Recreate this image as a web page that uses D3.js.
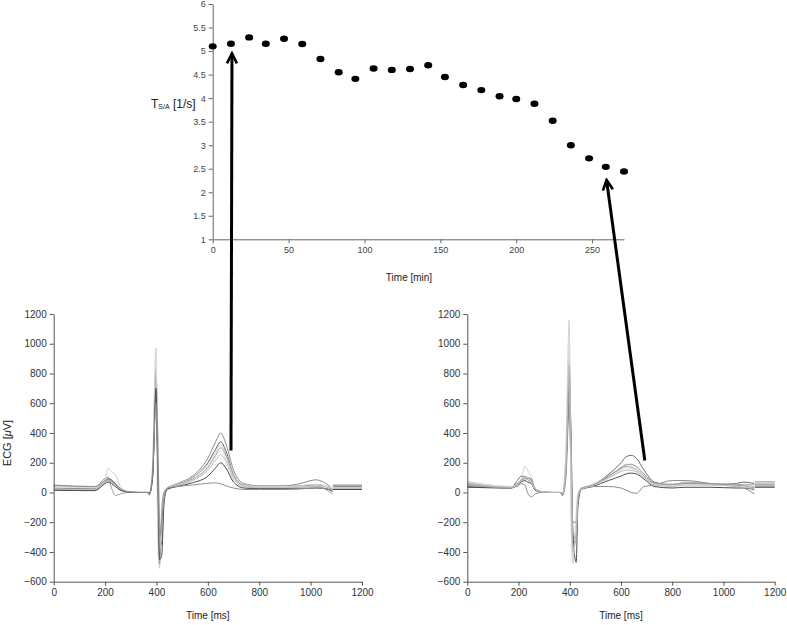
<!DOCTYPE html>
<html><head><meta charset="utf-8">
<script src="https://cdn.jsdelivr.net/npm/d3@7"></script>
<style>body{margin:0;background:#fff}svg{display:block}</style>
</head><body><svg id="c" width="787" height="625"></svg>
<script>
// ---------- Data ----------
const tsaTimes  = [0,12,24,35,47,59,71,83,94,106,118,130,142,153,165,177,189,200,212,224,236,248,259,271];
const tsaValues = [5.10,5.155,5.29,5.155,5.26,5.15,4.83,4.55,4.41,4.63,4.60,4.62,4.70,4.45,4.28,4.17,4.04,3.98,3.88,3.52,3.00,2.72,2.54,2.44];
const tsaXTicks = [0,50,100,150,200,250];
const tsaYTicks = [1,1.5,2,2.5,3,3.5,4,4.5,5,5.5,6];
const ecgXTicks = [0,200,400,600,800,1000,1200];
const ecgYTicks = [-600,-400,-200,0,200,400,600,800,1000,1200];

const leftTimes = [0,160,185,200,212,225,240,260,290,330,365,372,385,398,405,412,420,430,442,480,540,600,630,650,670,700,740,800,900,960,1020,1060,1085];
const leftTraces = [
  [45,38,70,95,100,80,60,25,5,0,0,-15,150,800,400,-200,-350,-40,30,60,110,230,340,400,330,150,60,45,45,60,85,60,25],
  [30,25,60,80,90,85,55,20,5,0,0,-10,100,650,200,-420,-250,-20,25,55,100,200,290,340,280,120,50,40,40,45,50,40,20],
  [40,35,65,85,165,140,120,40,5,0,0,-20,200,970,-300,-510,-100,10,30,60,100,190,270,320,260,120,50,40,40,45,55,45,30],
  [20,15,40,70,100,30,-20,-10,0,0,0,-5,120,830,100,-480,-150,0,25,50,90,170,250,300,250,110,45,30,30,35,40,20,-10],
  [35,30,55,75,80,70,50,20,5,0,0,-10,150,900,300,-350,-300,-30,25,50,85,160,235,280,230,100,45,40,40,40,45,40,25],
  [25,20,50,70,75,65,45,15,5,0,0,-10,130,750,250,-400,-200,-30,20,45,80,150,215,255,210,90,40,35,35,35,40,30,15],
  [15,12,40,60,70,60,40,15,3,0,0,-5,100,700,150,-450,-430,-60,20,40,65,110,165,200,165,70,30,25,25,25,30,25,10],
  [50,40,60,80,85,75,55,25,5,0,0,-15,130,600,200,-300,-200,-40,30,40,50,62,65,58,45,30,20,20,20,25,30,25,5]
];
const leftTails = [50,45,40,30,50,25,20,40];
const leftColors = ["#8a8a8a","#5a5a5a","#cfcfcf","#9a9a9a","#dadada","#bdbdbd","#4a4a4a","#8f8f8f"];

const rightTimes = [0,170,195,210,225,235,250,265,290,330,362,372,385,398,405,412,425,432,445,490,550,600,620,640,660,690,730,800,850,950,1050,1080,1120];
const rightTraces = [
  [40,30,80,110,105,100,80,20,5,0,0,-20,200,600,100,-300,-300,-40,20,50,120,200,240,250,230,150,70,50,60,55,60,70,60],
  [75,40,60,90,175,150,100,30,5,0,0,-10,300,1160,-200,-480,-150,0,25,55,110,170,190,185,170,120,60,50,70,60,55,50,40],
  [35,30,50,70,80,70,60,15,3,0,0,-5,150,720,400,-250,-470,-90,20,40,80,110,125,130,125,90,40,30,35,35,30,30,20],
  [55,35,40,60,50,0,-30,-10,0,0,0,-20,100,600,200,-200,-200,-60,30,40,40,30,15,0,-5,40,50,80,80,60,40,30,-10],
  [65,35,60,85,110,90,60,20,5,0,0,-15,200,900,150,-400,-250,-30,25,50,110,160,175,170,155,110,60,50,60,55,50,55,50],
  [70,40,55,80,100,95,70,25,5,0,0,-10,250,1000,0,-450,-200,-20,25,50,100,150,165,160,150,100,55,45,55,50,45,50,40],
  [50,30,55,80,95,95,95,20,5,0,0,-10,150,800,300,-350,-300,-40,25,50,105,165,185,190,175,125,65,55,65,60,50,45,30],
  [60,35,50,75,90,85,70,25,5,0,0,-10,180,850,250,-380,-280,-30,20,45,95,140,150,148,140,100,50,40,50,50,40,35,25]
];
const rightTails = [70,60,35,40,55,65,50,45];
const rightColors = ["#6a6a6a","#d0d0d0","#4a4a4a","#8a8a8a","#a5a5a5","#dadada","#9a9a9a","#bdbdbd"];

// arrows: from ECG point [ms, µV] to T_S/A point [min, 1/s]
const arrowLinks = [
  {panel:"left",  from:[690,282], to:[12.7,4.95]},
  {panel:"right", from:[693,215], to:[259.5,2.26]}
];

// ---------- Drawing ----------
const svg = d3.select("#c");
const FONT = "'Liberation Sans', Arial, sans-serif";

// Top chart
const tx = d3.scaleLinear([0,271],[212.7,624]);
const ty = d3.scaleLinear([1,6],[239.3,4]);

const topX = svg.append("g").attr("transform","translate(0,239.3)")
  .call(d3.axisBottom(tx).tickValues(tsaXTicks).tickSize(4).tickSizeOuter(0).tickPadding(3).tickFormat(d3.format("d")));
const topY = svg.append("g").attr("transform","translate(212.7,0)")
  .call(d3.axisLeft(ty).tickValues(tsaYTicks).tickSize(4).tickSizeOuter(0).tickPadding(3).tickFormat(d3.format("")));
[topX, topY].forEach(g => {
  g.selectAll("path,line").attr("stroke","#666");
  g.selectAll("text").attr("fill","#444").style("font-family",FONT).style("font-size","9px");
});

svg.append("g").selectAll("ellipse").data(tsaTimes).join("ellipse")
  .attr("cx",(d)=>tx(d)).attr("cy",(d,i)=>ty(tsaValues[i]))
  .attr("rx",4).attr("ry",3.2).attr("fill","#000");

const tl = svg.append("text").attr("x",151).attr("y",108).attr("fill","#222")
  .style("font-family",FONT).style("font-size","12px");
tl.append("tspan").text("T");
tl.append("tspan").attr("dy",1).style("font-size","7px").text("S/A");
tl.append("tspan").attr("dy",-1).text(" [1/s]");

svg.append("text").attr("x",409).attr("y",281).attr("text-anchor","middle").attr("fill","#222")
  .style("font-family",FONT).style("font-size","10px").text("Time [min]");

// ECG panels
function ecgPanel(x0, x1, times, traces, tails, colors) {
  const x = d3.scaleLinear([0,1200],[x0,x1]);
  const y = d3.scaleLinear([-600,1200],[581.7,314]);
  const line = d3.line().x(d=>x(d[0])).y(d=>y(d[1])).curve(d3.curveMonotoneX);
  const tEnd = times[times.length-1];
  traces.forEach((vals,i) => {
    const pts = times.map((t,j)=>[t, vals[j]]);
    svg.append("path").attr("d", line(pts)).attr("fill","none")
      .attr("stroke", colors[i]).attr("stroke-width",1);
    svg.append("path").attr("d", line([[tEnd+2, tails[i]],[1200, tails[i]]])).attr("fill","none")
      .attr("stroke", colors[i]).attr("stroke-width",1);
  });
  const gx = svg.append("g").attr("transform","translate(0,581.7)")
    .call(d3.axisBottom(x).tickValues(ecgXTicks).tickSize(4).tickSizeOuter(0).tickPadding(3).tickFormat(d3.format("d")));
  const gy = svg.append("g").attr("transform",`translate(${x0},0)`)
    .call(d3.axisLeft(y).tickValues(ecgYTicks).tickSize(4).tickSizeOuter(0).tickPadding(3).tickFormat(d3.format("d")));
  [gx, gy].forEach(g => {
    g.selectAll("path,line").attr("stroke","#555");
    g.selectAll("text").attr("fill","#333").style("font-family",FONT).style("font-size","10px");
  });
  svg.append("text").attr("x",(x0+x1)/2).attr("y",619).attr("text-anchor","middle").attr("fill","#222")
    .style("font-family",FONT).style("font-size","10px").text("Time [ms]");
  return {x, y};
}
const L = ecgPanel(53.7, 362, leftTimes, leftTraces, leftTails, leftColors);
const R = ecgPanel(467.3, 774.7, rightTimes, rightTraces, rightTails, rightColors);

const yl = svg.append("text").attr("transform","translate(11,443) rotate(-90)").attr("text-anchor","middle")
  .attr("fill","#222").style("font-family",FONT).style("font-size","11px");
yl.append("tspan").text("ECG [");
yl.append("tspan").style("font-style","italic").text("\u03BC");
yl.append("tspan").text("V]");

// arrows
svg.append("defs").append("marker").attr("id","ah").attr("markerUnits","userSpaceOnUse")
  .attr("viewBox","-12 -7 14 14").attr("refX",0).attr("refY",0)
  .attr("markerWidth",14).attr("markerHeight",14).attr("orient","auto")
  .append("path").attr("d","M-10,-5 L0,0 L-10,5").attr("fill","none").attr("stroke","#000")
  .attr("stroke-width",2.6).attr("stroke-linejoin","miter");
arrowLinks.forEach(a => {
  const P = a.panel === "left" ? L : R;
  svg.append("line")
    .attr("x1", P.x(a.from[0])).attr("y1", P.y(a.from[1]))
    .attr("x2", tx(a.to[0])).attr("y2", ty(a.to[1]))
    .attr("stroke","#000").attr("stroke-width",3).attr("marker-end","url(#ah)");
});
</script></body></html>
